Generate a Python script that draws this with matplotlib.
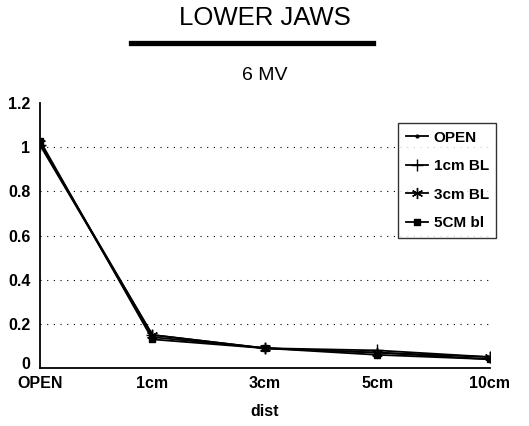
import matplotlib.pyplot as plt
import matplotlib.transforms as mtransforms
from matplotlib.lines import Line2D

categories = ['OPEN', '1cm', '3cm', '5cm', '10cm']
open_vals = [1.02, 0.14, 0.09, 0.07, 0.04]
bl1_vals = [1.01, 0.15, 0.09, 0.08, 0.05]
bl3_vals = [1.02, 0.15, 0.09, 0.07, 0.05]
bl5_vals = [1.03, 0.13, 0.09, 0.06, 0.04]
series_names = ['OPEN', '1cm BL', '3cm BL', '5CM bl']
yticks = [0, 0.2, 0.4, 0.6, 0.8, 1, 1.2]
ytick_labels = ['0', '0.2', '0.4', '0.6', '0.8', '1', '1.2']

plt.rcParams['font.family'] = ['Liberation Sans', 'DejaVu Sans']

fig = plt.figure(figsize=(5.29, 4.26), dpi=100)
ax = fig.add_axes([0.0756, 0.136, 0.85, 0.622])

x = range(len(categories))
markers = ['.', '+', (6, 2, 0), 's']
sizes = [4, 9, 8, 4]
for vals, name, m, s in zip([open_vals, bl1_vals, bl3_vals, bl5_vals], series_names, markers, sizes):
    ax.plot(x, vals, color='black', linewidth=1.3, marker=m, markersize=s,
            markeredgewidth=1.0, label=name)

ax.set_xlim(0, len(categories) - 1)
ax.set_ylim(0, 1.2)
ax.set_yticks(yticks)
ax.set_yticklabels(ytick_labels, fontweight='bold', fontsize=11.5)
ax.set_xticks(list(x))
ax.set_xticklabels(categories, fontweight='bold', fontsize=11.5)
ax.tick_params(length=0)
ax.tick_params(axis='y', pad=7)
ax.tick_params(axis='x', pad=6)
# nudge the "0" label up so it clears "OPEN"
zero_lbl = ax.get_yticklabels()[0]
zero_lbl.set_transform(zero_lbl.get_transform() +
                       mtransforms.ScaledTranslation(0, 4 / 72, fig.dpi_scale_trans))
for yv in yticks[1:-1]:
    ax.axhline(yv, color='black', linestyle=(0, (1, 5)), linewidth=0.8, zorder=0)

for side in ['top', 'right']:
    ax.spines[side].set_visible(False)
ax.spines['left'].set_linewidth(1.3)
ax.spines['bottom'].set_linewidth(1.3)

ax.set_xlabel('dist', fontweight='bold', fontsize=11.5, labelpad=9)

leg = ax.legend(loc='upper right', bbox_to_anchor=(1.015, 0.925), frameon=True,
                fancybox=False, edgecolor='black', handlelength=1.4,
                handletextpad=0.4, labelspacing=0.95, borderpad=0.5,
                borderaxespad=0.0, prop={'weight': 'bold', 'size': 11})
leg.get_frame().set_linewidth(1.0)

fig.text(0.5, 0.957, 'LOWER JAWS', ha='center', va='center', fontsize=18.5)
fig.add_artist(Line2D([0.247, 0.705], [0.9, 0.9], transform=fig.transFigure,
                      color='black', linewidth=3.8))
fig.text(0.5, 0.823, '6 MV', ha='center', va='center', fontsize=14)

fig.savefig('out.png', dpi=100)
